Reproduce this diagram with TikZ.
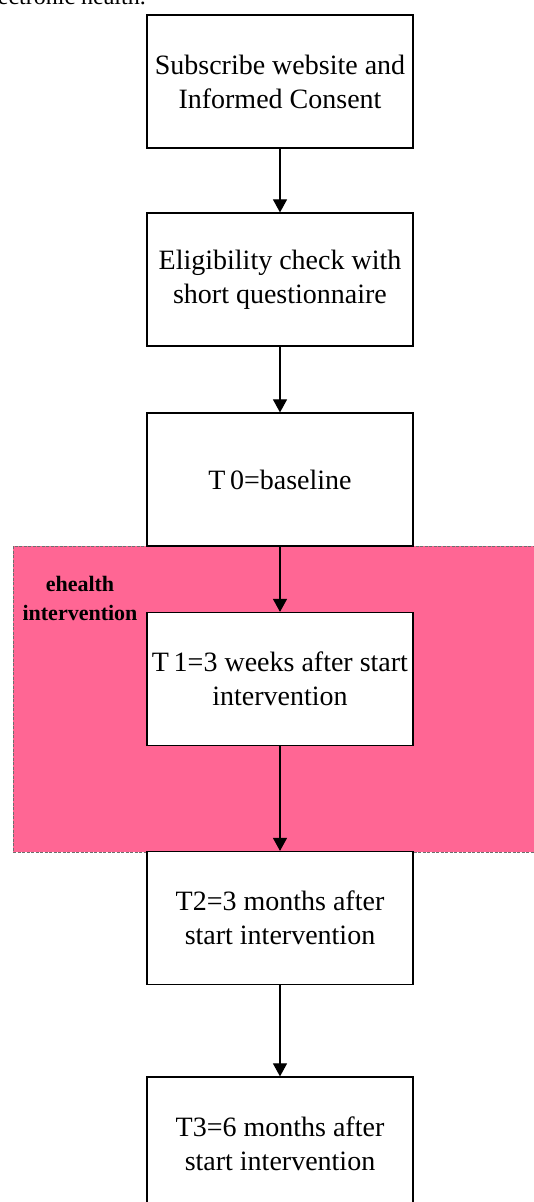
\documentclass[tikz,border=0pt]{standalone}
\usepackage{fontspec}
\setmainfont{Liberation Serif}
\usetikzlibrary{arrows.meta}
\definecolor{pinkfill}{RGB}{255,102,148}
\definecolor{edgegray}{RGB}{110,110,110}
\begin{document}
\begin{tikzpicture}[x=1pt,y=-1pt,
  stepbox/.style={draw=black, line width=1.2pt, fill=white, minimum width=266pt, minimum height=133pt, inner sep=0pt, align=center, font=\fontsize{28}{34}\selectfont},
  conn/.style={line width=1.1pt, -{Triangle[width=14pt,length=13pt]}},
  zone/.style={fill=pinkfill, draw=edgegray, dashed, dash pattern=on 3pt off 1.5pt, line width=0.9pt},
  zonelabel/.style={align=center, inner sep=0pt, font=\fontsize{22}{29}\selectfont\bfseries},
]
\useasboundingbox (0,0) rectangle (534,1202);
\fill[white] (0,0) rectangle (534,1202);
\node[anchor=base east, inner sep=0pt, font=\fontsize{24}{29}\selectfont] (toptext) at (146,4) {electronic health.};
\draw[zone] (13,546) rectangle (560,852);
\node[zonelabel] (zlabel) at (80,598) {ehealth\\intervention};
\node[stepbox] (b1) at (280,81.5) {Subscribe website and\\Informed Consent};
\node[stepbox] (b2) at (280,279.5) {Eligibility check with\\short questionnaire};
\node[stepbox] (b3) at (280,479.5) {T\,0=baseline};
\node[stepbox] (b4) at (280,679) {T\,1=3 weeks after start\\intervention};
\node[stepbox] (b5) at (280,918) {T2=3 months after\\start intervention};
\node[stepbox] (b6) at (280,1143.5) {T3=6 months after\\start intervention};
\draw[conn] (b1) -- (b2);
\draw[conn] (b2) -- (b3);
\draw[conn] (b3) -- (b4);
\draw[conn] (b4) -- (b5);
\draw[conn] (b5) -- (b6);
\end{tikzpicture}
\end{document}
